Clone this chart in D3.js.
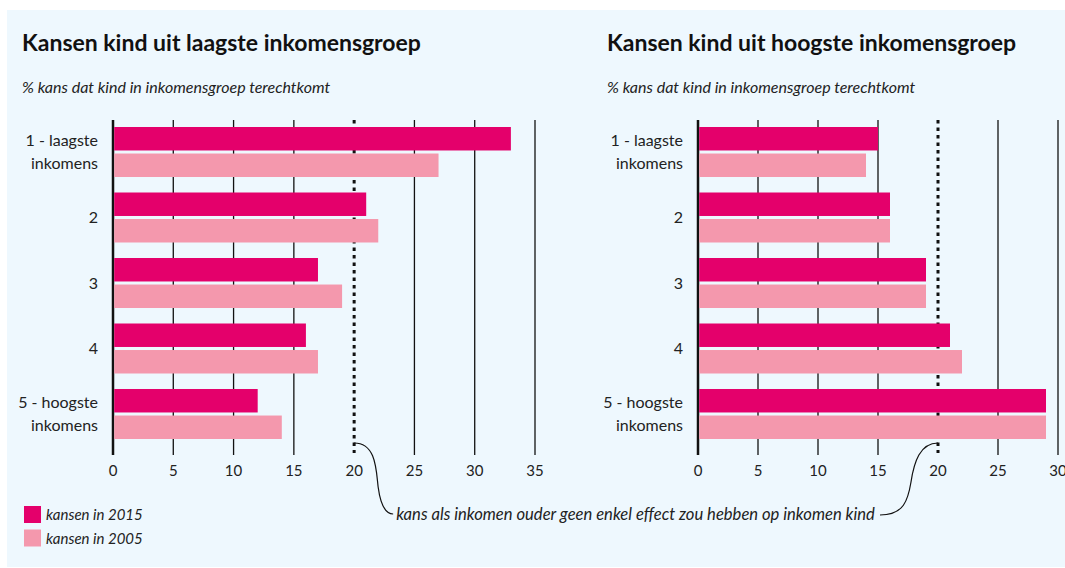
<!DOCTYPE html>
<html>
<head>
<meta charset="utf-8">
<script src="https://cdn.jsdelivr.net/npm/d3@7"></script>
<style>
  body { margin: 0; background: #fff; }
  svg { display: block; font-family: Lato, "Open Sans", sans-serif; }
</style>
</head>
<body>
<svg width="1065" height="568"></svg>
<script>
const categories = ["1 - laagste inkomens", "2", "3", "4", "5 - hoogste inkomens"];
const seriesNames = ["kansen in 2015", "kansen in 2005"];
const lowest2015 = [33, 21, 17, 16, 12];
const lowest2005 = [27, 22, 19, 17, 14];
const highest2015 = [15, 16, 19, 21, 29];
const highest2005 = [14, 16, 19, 22, 29];
const lowestTicks = [0, 5, 10, 15, 20, 25, 30, 35];
const highestTicks = [0, 5, 10, 15, 20, 25, 30];
const neutralLine = 20;

const svg = d3.select("svg");
const width = +svg.attr("width");
const height = +svg.attr("height");

const color = d3.scaleOrdinal()
  .domain(seriesNames)
  .range(["#e4006b", "#f498ad"]);

svg.append("rect")
  .attr("x", 7).attr("y", 10)
  .attr("width", width - 7).attr("height", height - 11)
  .attr("fill", "#eef8fe");

const y = d3.scaleBand()
  .domain(categories)
  .range([127, 439])
  .paddingInner(0.2366)
  .paddingOuter(0);

const ySub = d3.scaleBand()
  .domain(seriesNames)
  .range([0, y.bandwidth()])
  .paddingInner(0.115);

const gridTop = 120, gridBottom = 455;

function drawPanel(opts) {
  const x = d3.scaleLinear().domain(opts.domain).range(opts.range);
  const g = svg.append("g");

  g.append("text")
    .attr("x", opts.titleX).attr("y", 51)
    .style("font-size", "23px").style("font-weight", "bold")
    .attr("fill", "#111")
    .text(opts.title);

  g.append("text")
    .attr("x", opts.titleX).attr("y", 93)
    .style("font-size", "16px").style("font-style", "italic")
    .attr("fill", "#222")
    .text("% kans dat kind in inkomensgroep terechtkomt");

  // grid
  g.selectAll(".grid")
    .data(opts.ticks.filter(d => d !== neutralLine))
    .enter().append("line")
    .attr("x1", d => x(d)).attr("x2", d => x(d))
    .attr("y1", gridTop).attr("y2", gridBottom)
    .attr("stroke", "#111")
    .attr("stroke-width", d => d === 0 ? 2.5 : 1.3);

  g.append("line")
    .attr("x1", x(neutralLine)).attr("x2", x(neutralLine))
    .attr("y1", gridTop).attr("y2", gridBottom - 2)
    .attr("stroke", "#111")
    .attr("stroke-width", 3)
    .attr("stroke-dasharray", "3.5,4");

  const rows = categories.map((c, i) => ({ cat: c, vals: [opts.s2015[i], opts.s2005[i]] }));

  const groups = g.selectAll(".grp")
    .data(rows)
    .enter().append("g")
    .attr("transform", d => `translate(0,${y(d.cat)})`);

  groups.selectAll("rect")
    .data(d => d.vals.map((v, j) => ({ key: seriesNames[j], value: v })))
    .enter().append("rect")
    .attr("x", x(0) + 1.2)
    .attr("y", d => ySub(d.key))
    .attr("width", d => x(d.value) - x(0) - 1.2)
    .attr("height", ySub.bandwidth())
    .attr("fill", d => color(d.key));

  // category labels
  groups.each(function(d) {
    const parts = d.cat.includes(" inkomens")
      ? [d.cat.replace(" inkomens", ""), "inkomens"]
      : [d.cat];
    const t = d3.select(this).append("text")
      .attr("x", x(0) - 15)
      .attr("text-anchor", "end")
      .style("font-size", "16px")
      .attr("fill", "#222");
    parts.forEach((p, k) => {
      t.append("tspan")
        .attr("x", x(0) - 15)
        .attr("y", parts.length === 1 ? y.bandwidth() / 2 + 6 : ySub(seriesNames[k]) + ySub.bandwidth() / 2 + (k === 0 ? 7 : 4))
        .text(p);
    });
  });

  // tick labels
  g.selectAll(".tick-label")
    .data(opts.ticks)
    .enter().append("text")
    .attr("x", d => x(d)).attr("y", 476)
    .attr("text-anchor", "middle")
    .style("font-size", "15px")
    .attr("fill", "#222")
    .text(d => d);

  return x;
}

const xLeft = drawPanel({
  title: "Kansen kind uit laagste inkomensgroep",
  titleX: 22,
  domain: [0, 35], range: [113, 535],
  ticks: lowestTicks,
  s2015: lowest2015, s2005: lowest2005
});

const xRight = drawPanel({
  title: "Kansen kind uit hoogste inkomensgroep",
  titleX: 607,
  domain: [0, 30], range: [698, 1058],
  ticks: highestTicks,
  s2015: highest2015, s2005: highest2005
});

// annotation
const lx = xLeft(neutralLine), rx = xRight(neutralLine);
svg.append("path")
  .attr("d", `M${lx},443 C${lx + 22},443 ${lx + 22},470 ${lx + 24},487 C${lx + 26},502 ${lx + 30},514 ${lx + 39},514`)
  .attr("fill", "none").attr("stroke", "#111").attr("stroke-width", 1.2);
svg.append("path")
  .attr("d", `M${rx - 58},515 C${rx - 34},515 ${rx - 30},500 ${rx - 27},482 C${rx - 24},462 ${rx - 18},443 ${rx},443`)
  .attr("fill", "none").attr("stroke", "#111").attr("stroke-width", 1.2);

svg.append("text")
  .attr("x", lx + 42).attr("y", 520)
  .style("font-size", "16.6px").style("font-style", "italic")
  .attr("fill", "#222")
  .text("kans als inkomen ouder geen enkel effect zou hebben op inkomen kind");

// legend
const legend = svg.append("g").attr("transform", "translate(24,506)");
seriesNames.forEach((s, i) => {
  legend.append("rect")
    .attr("x", 0).attr("y", i * 23.5)
    .attr("width", 17).attr("height", 17)
    .attr("fill", color(s));
  legend.append("text")
    .attr("x", 22).attr("y", i * 23.5 + 14)
    .style("font-size", "15px").style("font-style", "italic")
    .attr("fill", "#222")
    .text(s);
});
</script>
</body>
</html>
